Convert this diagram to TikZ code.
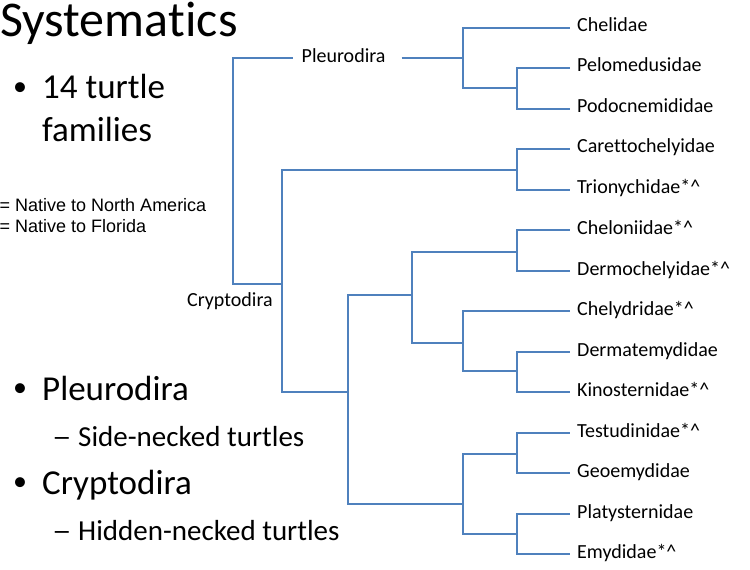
\documentclass[tikz,border=0pt]{standalone}
\usepackage{fontspec}
\setmainfont{Carlito}[Ligatures={NoCommon},RawFeature={-liga;-clig;-dlig}]
\newfontfamily\arialf{Liberation Sans}
\definecolor{brc}{HTML}{4F81BD}
\begin{document}
\begin{tikzpicture}[x=1bp,y=-1bp,
  br/.style={draw=brc,line width=2bp},
  leaf/.style={anchor=base west,inner sep=0pt,font=\fontsize{20bp}{24bp}\selectfont},
  big/.style={anchor=base west,inner sep=0pt,font=\fontsize{35bp}{42bp}\selectfont},
  bul/.style={anchor=base west,inner sep=0pt,font=\fontsize{28bp}{34bp}\selectfont},
  sub/.style={anchor=base west,inner sep=0pt,font=\fontsize{29bp}{35bp}\selectfont},
  note/.style={anchor=base west,inner sep=0pt,font=\arialf\fontsize{18bp}{21bp}\selectfont}]
\fill[white] (0,0) rectangle (750,570);
\useasboundingbox (0,0) rectangle (750,570);

% left column text
\node[anchor=base west,inner sep=0pt,text height=33bp,font=\fontsize{50bp}{60bp}\selectfont] (title) at (0,37) {Systema\kern0pt tics};
\node[bul] (b1) at (13,95.5) {•};
\node[big] (t1) at (42,99) {14 turtle};
\node[big] (t1b) at (42,142) {families};
\node[note] (n1) at (-0.5,212) {= Native to North America};
\node[note] (n2) at (-0.5,232) {= Native to Florida};
\node[bul] (b2) at (13,396.5) {•};
\node[big] (t2) at (42,400) {Pleurodira};
\node[sub] (d2) at (52,446) {\scalebox{1.35}[1]{–}};
\node[sub] (s2) at (78,446) {Side-necked turtles};
\node[bul] (b3) at (13,490.5) {•};
\node[big] (t3) at (42,494) {Cryptodira};
\node[sub] (d3) at (52,540) {\scalebox{1.35}[1]{–}};
\node[sub] (s3) at (78,540) {Hidden-necked turtles};

% leaf labels
\node[leaf] (L1) at (577,32) {Chelidae};
\node[leaf] (L2) at (577,72) {Pelomedusidae};
\node[leaf] (L3) at (577,113) {Podocnemididae};
\node[leaf] (L4) at (577,153) {Caret\kern0pt tochelyidae};
\node[leaf] (L5) at (577,194) {Trionychidae*\^{}};
\node[leaf] (L6) at (577,234) {Cheloniidae*\^{}};
\node[leaf] (L7) at (577,275) {Dermochelyidae*\^{}};
\node[leaf] (L8) at (577,315) {Chelydridae*\^{}};
\node[leaf] (L9) at (577,356) {Dermatemydidae};
\node[leaf] (L10) at (577,396) {Kinosternidae*\^{}};
\node[leaf] (L11) at (577,437) {Testudinidae*\^{}};
\node[leaf] (L12) at (577,477) {Geoemydidae};
\node[leaf] (L13) at (577,518) {Platysternidae};
\node[leaf] (L14) at (577,558) {Emydidae*\^{}};

% leaf line ends
\coordinate (e1) at (570,28);
\coordinate (e2) at (570,68);
\coordinate (e3) at (570,109);
\coordinate (e4) at (570,149);
\coordinate (e5) at (570,190);
\coordinate (e6) at (570,230);
\coordinate (e7) at (570,271);
\coordinate (e8) at (570,311);
\coordinate (e9) at (570,352);
\coordinate (e10) at (570,392);
\coordinate (e11) at (570,433);
\coordinate (e12) at (570,473);
\coordinate (e13) at (570,514);
\coordinate (e14) at (570,554);

% junctions
\coordinate (jP2) at (517,88);
\coordinate (jP1) at (463,58);
\coordinate (jCT) at (517,170);
\coordinate (jCD) at (517,252);
\coordinate (jDK) at (517,371);
\coordinate (jCy) at (463,343);
\coordinate (jA) at (412,295);
\coordinate (jTG) at (517,454);
\coordinate (jPE) at (517,534);
\coordinate (jB) at (463,504);
\coordinate (jC) at (348,392);
\coordinate (jCr) at (282,284);
\coordinate (jR) at (233,171);

% clade labels
\node[leaf] (pl) at (301.5,62.5) {Pleurodira};
\node[leaf] (cr) at (187,306.5) {Cryptodira};

% branches
\draw[br] (jP2) |- (e2);
\draw[br] (jP2) |- (e3);
\draw[br] (jP1) |- (e1);
\draw[br] (jP1) |- (jP2);
\draw[br] (jCT) |- (e4);
\draw[br] (jCT) |- (e5);
\draw[br] (jCD) |- (e6);
\draw[br] (jCD) |- (e7);
\draw[br] (jDK) |- (e9);
\draw[br] (jDK) |- (e10);
\draw[br] (jCy) |- (e8);
\draw[br] (jCy) |- (jDK);
\draw[br] (jA) |- (jCD);
\draw[br] (jA) |- (jCy);
\draw[br] (jTG) |- (e11);
\draw[br] (jTG) |- (e12);
\draw[br] (jPE) |- (e13);
\draw[br] (jPE) |- (e14);
\draw[br] (jB) |- (jTG);
\draw[br] (jB) |- (jPE);
\draw[br] (jC) |- (jA);
\draw[br] (jC) |- (jB);
\draw[br] (jCr) |- (jCT);
\draw[br] (jCr) |- (jC);
\draw[br] (jR) |- (jCr);
\draw[br] (jR) |- ([xshift=-8.5bp]pl.west |- jP1);
\draw[br] ([xshift=16bp]pl.east |- jP1) -- (jP1);
\end{tikzpicture}
\end{document}
